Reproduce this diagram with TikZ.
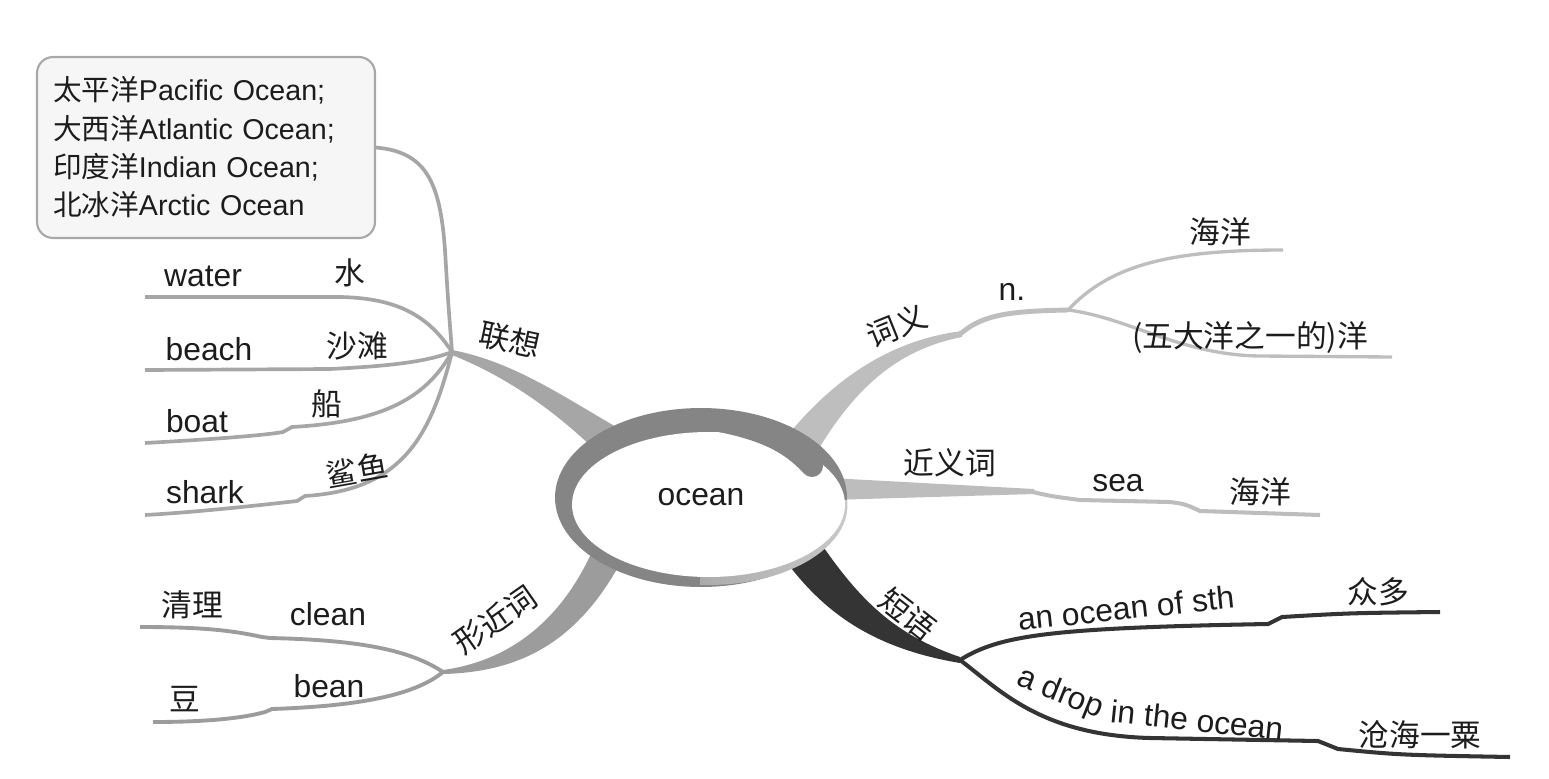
\documentclass[tikz,border=0pt]{standalone}
\usepackage{fontspec}
\setmainfont{Liberation Sans}
\newfontfamily\cjk{Noto Sans CJK SC}
\usetikzlibrary{calc}

\definecolor{ink}{HTML}{1C1C1C}
\definecolor{ringgray}{HTML}{858585}
\definecolor{rimgray}{HTML}{C8C8C8}
\definecolor{boxgray}{HTML}{A8A8A8}
\definecolor{boxfill}{HTML}{F6F6F6}
\definecolor{lxgray}{HTML}{A6A6A6}
\definecolor{cygray}{HTML}{BEBEBE}
\definecolor{jygray}{HTML}{BDBDBD}
\definecolor{dygray}{HTML}{343434}
\definecolor{xjgray}{HTML}{9C9C9C}

\newcommand\ensize{\fontsize{18.1pt}{21pt}\selectfont}
\newcommand\zhsize{\cjk\fontsize{17.5pt}{21pt}\selectfont}
\newcommand\boxsize{\fontsize{16.3pt}{21.8pt}\selectfont}
\newcommand\zh[1]{{\cjk #1}}

\begin{document}
\begin{tikzpicture}[x=0.02cm, y=-0.02cm,
    en/.style={font=\ensize, text=ink, inner sep=0pt},
    zh/.style={font=\zhsize, text=ink, inner sep=0pt},
    lxline/.style={draw=lxgray, line width=2.1pt},
    cyline/.style={draw=cygray, line width=1.9pt},
    jyline/.style={draw=jygray, line width=2.3pt},
    dyline/.style={draw=dygray, line width=2.3pt},
    xjline/.style={draw=xjgray, line width=2.2pt}]
  \useasboundingbox (0,0) rectangle (1549,778);

  % hubs and loose ends
  \coordinate (lxhub) at (452,352);
  \coordinate (cyhub) at (1068,310);
  \coordinate (jyend) at (1033,492);
  \coordinate (dyhub) at (960,660);
  \coordinate (xjhub) at (443,672);
  \coordinate (waterend) at (145,297);
  \coordinate (beachend) at (145,370);
  \coordinate (boatend) at (145,443);
  \coordinate (sharkend) at (145,515);
  \coordinate (cyupend) at (1283,250);
  \coordinate (cydownend) at (1392,357);
  \coordinate (seaend) at (1320,515);
  \coordinate (sthend) at (1440,612);
  \coordinate (dropend) at (1510,757);
  \coordinate (cleanend) at (140,627);
  \coordinate (beanend) at (153,722);

  % 联想 box
  \node[draw=boxgray, fill=boxfill, line width=1.2pt, rounded corners=0.32cm,
        text width=6.12cm, inner xsep=0.32cm, minimum height=3.62cm,
        align=left, font=\boxsize, text=ink] (oceans) at (206,147.5)
        {\zh{太平洋}Pacific Ocean;\\\zh{大西洋}Atlantic Ocean;\\\zh{印度洋}Indian Ocean;\\\zh{北冰洋}Arctic Ocean};

  % 联想 leaves
  \draw[lxline] (oceans.east) .. controls (425,152) and (440,180) .. (445,250) .. controls (448,300) .. (lxhub);
  \draw[lxline] (waterend) -- (340,297) .. controls (400,298) and (430,318) .. (lxhub);
  \draw[lxline] (beachend) -- (330,369) .. controls (390,366) and (425,362) .. (lxhub);
  \draw[lxline] (boatend) .. controls (200,440) and (260,436) .. (283,432) -- (292,427) .. controls (380,422) and (425,400) .. (lxhub);
  \draw[lxline] (sharkend) .. controls (200,512) and (270,504) .. (297,501) -- (305,496) .. controls (400,490) and (430,440) .. (lxhub);

  % 词义 leaves
  \draw[cyline, line width=2.8pt] (960,334) -- (968,328) .. controls (990,313) and (1020,311) .. (cyhub);
  \draw[cyline] (cyhub) .. controls (1110,265) and (1170,250) .. (cyupend);
  \draw[cyline] (cyhub) .. controls (1130,318) and (1180,355) .. (1260,356) -- (cydownend);

  % 近义词 leaf
  \draw[jyline] (jyend) .. controls (1050,496) .. (1080,500) -- (1170,502) .. controls (1185,504) .. (1200,511) -- (seaend);

  % 短语 leaves
  \draw[dyline] (dyhub) .. controls (1000,635) and (1050,628) .. (1268,624) -- (1282,617) .. controls (1350,613) .. (sthend);
  \draw[dyline] (dyhub) .. controls (1000,690) and (1040,735) .. (1150,738) -- (1318,741) -- (1338,749) .. controls (1400,755) .. (dropend);

  % 形近词 leaves
  \draw[xjline] (cleanend) .. controls (200,627) and (230,630) .. (262,637) -- (270,638) .. controls (360,640) and (410,650) .. (xjhub);
  \draw[xjline] (beanend) .. controls (200,722) and (240,719) .. (265,712) -- (272,709) .. controls (360,706) and (415,695) .. (xjhub);

  % main branches
  \fill[lxgray] ($(lxhub)+(0,-2)$) .. controls (515,362) and (565,398) .. (625,432) -- (600,455) .. controls (560,415) and (510,378) .. ($(lxhub)+(0,3)$) -- cycle;
  \fill[cygray] (780,445) .. controls (830,380) and (890,340) .. (962,331) -- (962,337) .. controls (905,348) and (860,380) .. (818,450) -- cycle;
  \fill[jygray] (830,478) -- ($(jyend)+(1,-3)$) -- ($(jyend)+(1,2)$) -- (830,500) -- cycle;
  \fill[dygray] (785,560) .. controls (822,610) and (870,648) .. ($(dyhub)+(0,3)$) -- ($(dyhub)+(0,-3)$) .. controls (895,635) and (860,600) .. (822,545) -- cycle;
  \fill[xjgray] (595,545) .. controls (565,615) and (515,660) .. ($(xjhub)+(0,-2)$) -- ($(xjhub)+(0,2)$) .. controls (525,672) and (580,638) .. (622,560) -- cycle;

  % centre swirl
  \fill[ringgray] (701,497.5) ellipse [x radius=2.92cm, y radius=1.79cm];
  \begin{scope}
    \clip (700,500) rectangle (860,600);
    \shade[left color=ringgray, right color=rimgray, middle color=rimgray!60!ringgray]
      (708.5,505) ellipse [x radius=2.78cm, y radius=1.6cm];
  \end{scope}
  \fill[white] (708.5,504.5) ellipse [x radius=2.73cm, y radius=1.45cm];
  \draw[ringgray, line width=12.5pt, line cap=round] (720,421) .. controls (775,432) and (795,448) .. (812,466);
  \node[en] (ocean) at (701,497) {ocean};

  % 联想
  \node[zh, rotate=-12] (lianxiang) at (510,340) {联想};
  \node[en] (water) at (203,276) {water};
  \node[zh] (shui) at (350,273) {水};
  \node[en] (beach) at (209,349) {beach};
  \node[zh] (shatan) at (357,346) {沙滩};
  \node[en] (boat) at (197,421) {boat};
  \node[zh] (chuan) at (327,404) {船};
  \node[en] (shark) at (205,492) {shark};
  \node[zh, rotate=10] (shayu) at (357,470) {鲨鱼};

  % 词义
  \node[zh, rotate=22] (ciyi) at (897,326) {词义};
  \node[en] (noun) at (1012,292) {n.};
  \node[zh] (haiyang) at (1220,232) {海洋};
  \node[zh] (wudayang) at (1250,338) {(\zh{五大洋之一的})洋};

  % 近义词
  \node[zh] (jinyici) at (950,463) {近义词};
  \node[en] (sea) at (1118,483) {sea};
  \node[zh] (seacn) at (1260,492) {海洋};

  % 短语
  \node[zh, rotate=-38] (duanyu) at (908,614) {短语};
  \node[en, rotate=6] (oceanof) at (1126,608) {an ocean of sth};
  \node[zh] (zhongduo) at (1378,592) {众多};
  \node[en, rotate=-22] (adrop) at (1060,694) {a drop};
  \node[en, rotate=-6] (intheocean) at (1197,720) {in the ocean};
  \node[zh] (canghai) at (1420,735) {沧海一粟};

  % 形近词
  \node[zh, rotate=35] (xingjinci) at (495,620) {形近词};
  \node[zh] (qingli) at (192,605) {清理};
  \node[en] (clean) at (328,614) {clean};
  \node[zh] (dou) at (185,699) {豆};
  \node[en] (bean) at (329,686) {bean};
\end{tikzpicture}
\end{document}
